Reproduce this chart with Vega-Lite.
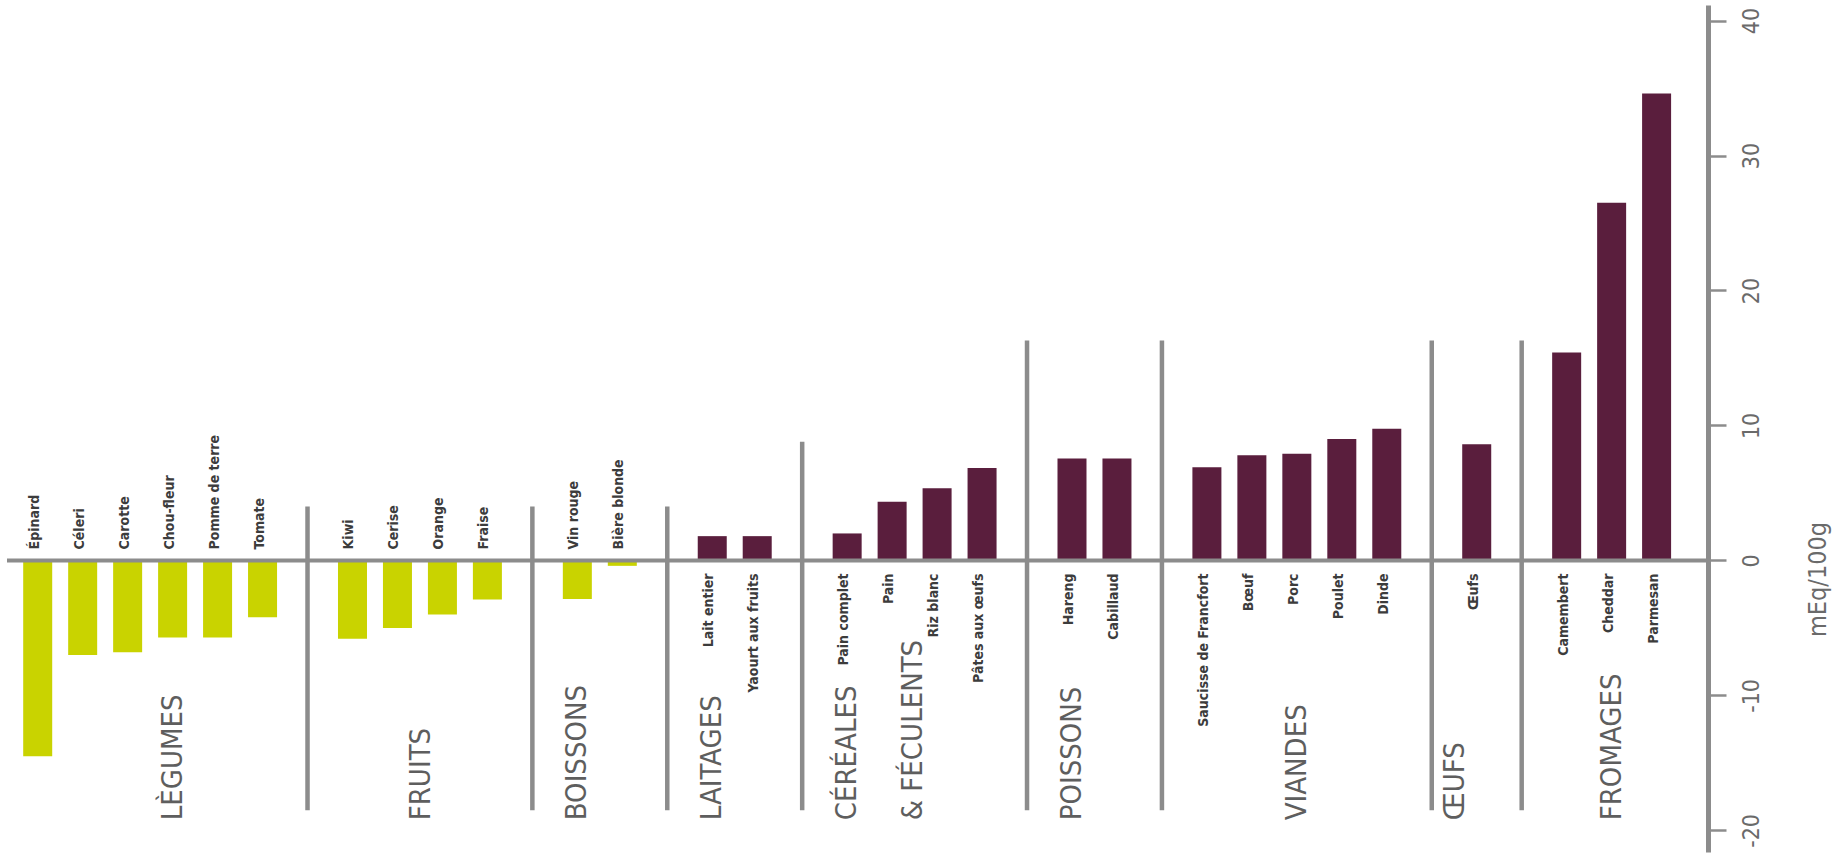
{
  "$schema": "https://vega.github.io/schema/vega-lite/v6.json",
  "width": 1701,
  "height": 847,
  "autosize": "none",
  "padding": {"left": 7, "top": 5, "right": 136, "bottom": 9},
  "background": "white",
  "config": {"view": {"stroke": null}},
  "datasets": {
    "items": [
      {"slot": "Épinard", "group": "LÈGUMES", "value": -14.5},
      {"slot": "Céleri", "group": "LÈGUMES", "value": -7.0},
      {"slot": "Carotte", "group": "LÈGUMES", "value": -6.8},
      {"slot": "Chou-fleur", "group": "LÈGUMES", "value": -5.7},
      {"slot": "Pomme de terre", "group": "LÈGUMES", "value": -5.7},
      {"slot": "Tomate", "group": "LÈGUMES", "value": -4.2},
      {"slot": "Kiwi", "group": "FRUITS", "value": -5.8},
      {"slot": "Cerise", "group": "FRUITS", "value": -5.0},
      {"slot": "Orange", "group": "FRUITS", "value": -4.0},
      {"slot": "Fraise", "group": "FRUITS", "value": -2.9},
      {"slot": "Vin rouge", "group": "BOISSONS", "value": -2.85},
      {"slot": "Bière blonde", "group": "BOISSONS", "value": -0.4},
      {"slot": "Lait entier", "group": "LAITAGES", "value": 1.8},
      {"slot": "Yaourt aux fruits", "group": "LAITAGES", "value": 1.8},
      {"slot": "Pain complet", "group": "CÉRÉALES & FÉCULENTS", "value": 2.0},
      {"slot": "Pain", "group": "CÉRÉALES & FÉCULENTS", "value": 4.35},
      {"slot": "Riz blanc", "group": "CÉRÉALES & FÉCULENTS", "value": 5.35},
      {"slot": "Pâtes aux œufs", "group": "CÉRÉALES & FÉCULENTS", "value": 6.85},
      {"slot": "Hareng", "group": "POISSONS", "value": 7.55},
      {"slot": "Cabillaud", "group": "POISSONS", "value": 7.55},
      {"slot": "Saucisse de Francfort", "group": "VIANDES", "value": 6.9},
      {"slot": "Bœuf", "group": "VIANDES", "value": 7.8},
      {"slot": "Porc", "group": "VIANDES", "value": 7.9},
      {"slot": "Poulet", "group": "VIANDES", "value": 9.0},
      {"slot": "Dinde", "group": "VIANDES", "value": 9.75},
      {"slot": "Œufs", "group": "ŒUFS", "value": 8.6},
      {"slot": "Camembert", "group": "FROMAGES", "value": 15.4},
      {"slot": "Cheddar", "group": "FROMAGES", "value": 26.5},
      {"slot": "Parmesan", "group": "FROMAGES", "value": 34.6}
    ],
    "seps": [
      {"slot": "g1", "top": 4.0, "bottom": -18.5},
      {"slot": "g2", "top": 4.0, "bottom": -18.5},
      {"slot": "g3", "top": 4.0, "bottom": -18.5},
      {"slot": "g4", "top": 8.8, "bottom": -18.5},
      {"slot": "g5", "top": 16.3, "bottom": -18.5},
      {"slot": "g6", "top": 16.3, "bottom": -18.5},
      {"slot": "g7", "top": 16.3, "bottom": -18.5},
      {"slot": "g8", "top": 16.3, "bottom": -18.5}
    ],
    "groups": [
      {"slot": "Chou-fleur", "title": "LÈGUMES"},
      {"slot": "Orange", "title": "FRUITS"},
      {"slot": "Vin rouge", "title": "BOISSONS"},
      {"slot": "Lait entier", "title": "LAITAGES"},
      {"slot": "Pain complet", "title": "CÉRÉALES\n& FÉCULENTS"},
      {"slot": "Hareng", "title": "POISSONS"},
      {"slot": "Porc", "title": "VIANDES"},
      {"slot": "Œufs", "title": "ŒUFS"},
      {"slot": "Cheddar", "title": "FROMAGES"}
    ]
  },
  "encoding": {
    "x": {"field": "slot", "type": "nominal", "axis": null,
      "scale": {"type": "band",
        "domain": ["Épinard", "Céleri", "Carotte", "Chou-fleur", "Pomme de terre", "Tomate", "g1", "Kiwi", "Cerise", "Orange", "Fraise", "g2", "Vin rouge", "Bière blonde", "g3", "Lait entier", "Yaourt aux fruits", "g4", "Pain complet", "Pain", "Riz blanc", "Pâtes aux œufs", "g5", "Hareng", "Cabillaud", "g6", "Saucisse de Francfort", "Bœuf", "Porc", "Poulet", "Dinde", "g7", "Œufs", "g8", "Camembert", "Cheddar", "Parmesan"],
        "range": [16.2, 1664.1], "paddingInner": 0.355, "paddingOuter": 0}}
  },
  "layer": [
    {
      "data": {"name": "items"},
      "mark": {"type": "bar"},
      "encoding": {
        "y": {"field": "value", "type": "quantitative",
          "scale": {"domain": [-21.6, 41.15], "nice": false, "zero": false},
          "axis": {
            "orient": "right",
            "values": [-20, -10, 0, 10, 20, 30, 40],
            "labelExpr": "'' + datum.value",
            "grid": false,
            "domainColor": "#8c8c8c", "domainWidth": 5,
            "tickColor": "#8c8c8c", "tickWidth": 2.5, "tickSize": 18,
            "labelAngle": -90, "labelAlign": "center", "labelBaseline": "top",
            "labelPadding": 14,
            "labelFont": "DejaVu Sans Condensed, Liberation Sans Narrow, sans-serif",
            "labelFontSize": 23, "labelColor": "#6a6a6a",
            "title": "mEq/100g",
            "titleAngle": -90, "titleAlign": "center", "titleBaseline": "middle",
            "titleX": 109, "titleY": 574,
            "titleFont": "DejaVu Sans Condensed, Liberation Sans Narrow, sans-serif",
            "titleFontSize": 25, "titleFontWeight": "normal", "titleColor": "#6a6a6a"
          }},
        "y2": {"datum": 0},
        "color": {"condition": {"test": "datum.value < 0", "value": "#c9d300"}, "value": "#5a1e3d"}
      }
    },
    {
      "data": {"name": "seps"},
      "mark": {"type": "rule", "color": "#8c8c8c", "strokeWidth": 4.5},
      "encoding": {
        "x": {"field": "slot", "type": "nominal", "bandPosition": 0.5},
        "y": {"field": "top", "type": "quantitative"},
        "y2": {"field": "bottom"}
      }
    },
    {
      "data": {"values": [{"line": "zero"}]},
      "mark": {"type": "rule", "color": "#8c8c8c", "strokeWidth": 4},
      "encoding": {"x": null, "y": {"datum": 0}}
    },
    {
      "data": {"name": "items"},
      "transform": [{"filter": "datum.value < 0"}],
      "mark": {"type": "text", "angle": -90, "align": "left", "baseline": "middle", "dx": 11, "dy": -3,
        "font": "DejaVu Sans Condensed, Liberation Sans Narrow, sans-serif", "fontSize": 14, "fontWeight": "bold", "color": "#3c3c3c"},
      "encoding": {
        "x": {"field": "slot", "type": "nominal", "bandPosition": 0.5},
        "y": {"datum": 0},
        "text": {"field": "slot"}
      }
    },
    {
      "data": {"name": "items"},
      "transform": [{"filter": "datum.value >= 0"}],
      "mark": {"type": "text", "angle": -90, "align": "right", "baseline": "middle", "dx": -13, "dy": -3,
        "font": "DejaVu Sans Condensed, Liberation Sans Narrow, sans-serif", "fontSize": 14, "fontWeight": "bold", "color": "#3c3c3c"},
      "encoding": {
        "x": {"field": "slot", "type": "nominal", "bandPosition": 0.5},
        "y": {"datum": 0},
        "text": {"field": "slot"}
      }
    },
    {
      "data": {"name": "groups"},
      "transform": [{"filter": {"not": {"field": "title", "oneOf": ["FRUITS", "ŒUFS"]}}}],
      "mark": {"type": "text", "angle": -90, "align": "left", "baseline": "middle", "lineBreak": "\n", "lineHeight": 66,
        "font": "DejaVu Sans Condensed, Liberation Sans Narrow, sans-serif", "fontSize": 29, "color": "#5e5e5e"},
      "encoding": {
        "x": {"field": "slot", "type": "nominal", "bandPosition": 0.5},
        "y": {"datum": -19.25},
        "text": {"field": "title"}
      }
    },
    {
      "data": {"name": "groups"},
      "transform": [{"filter": {"field": "title", "oneOf": ["FRUITS", "ŒUFS"]}}],
      "mark": {"type": "text", "angle": -90, "align": "left", "baseline": "middle",
        "font": "DejaVu Sans Condensed, Liberation Sans Narrow, sans-serif", "fontSize": 29, "color": "#5e5e5e"},
      "encoding": {
        "x": {"field": "slot", "type": "nominal", "bandPosition": -0.25},
        "y": {"datum": -19.25},
        "text": {"field": "title"}
      }
    }
  ]
}
